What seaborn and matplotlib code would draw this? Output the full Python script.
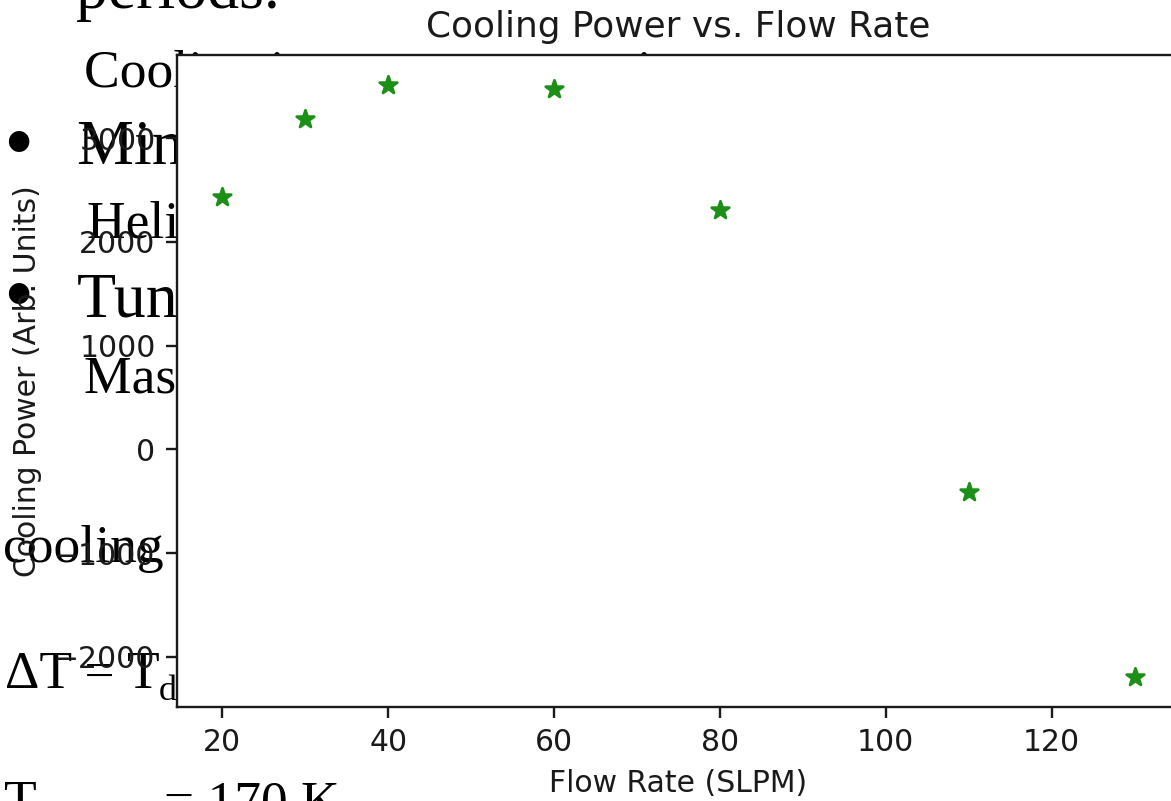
import matplotlib
matplotlib.use("Agg")
import matplotlib.pyplot as plt
import seaborn as sns
import pandas as pd

# Measured cooling power at each helium flow rate
flow_rate = [20, 30, 40, 60, 80, 110, 130]
cooling_power = [2430, 3185, 3515, 3470, 2305, -410, -2195]

x_ticks = [20, 40, 60, 80, 100, 120]
y_ticks = [-2000, -1000, 0, 1000, 2000, 3000]

# Lecture-note lines sitting behind the plot (text, size, x px, baseline px)
note_lines = [
    ("periods.", 46, 76, 8),
    ("Cooling is run over a set time", 38.5, 84, 87),
    ("Minimise helium use", 46, 77, 163),
    ("Helium flow sets the rate", 38.5, 87, 238),
    ("Tune the flow rate", 46, 77, 317),
    ("Mass flow controller", 38.5, 84, 393),
    ("cooling", 38.5, 3, 562),
]
bullet_rows = [170, 322]

sns.set_style("ticks")

W, H = 1171, 801
fig = plt.figure(figsize=(W / 100, H / 100), dpi=100)
fig.patch.set_facecolor("white")

serif = "Liberation Serif"


def put(x, y, s, size, **kw):
    fig.text(x / W, 1 - y / H, s, fontsize=size, family=serif, color="black",
             ha="left", va="baseline", zorder=-1, **kw)


for text, size, x, y in note_lines:
    put(x, y, text, size)
for y in bullet_rows:
    put(3, y, "\u2022", 62)

put(5, 688, "\u0394T = T", 38.5)
put(159, 700, "d", 26)
put(4, 817, "T", 38.5)
put(164, 817, "= 170 K", 38.5)

ax = fig.add_axes([176.7 / W, 1 - 706.7 / H, (1180.2 - 176.7) / W, (706.7 - 55) / H])
ax.set_facecolor("white")

df = pd.DataFrame({"Flow Rate (SLPM)": flow_rate,
                   "Cooling Power (Arb. Units)": cooling_power})
sns.scatterplot(data=df, x="Flow Rate (SLPM)", y="Cooling Power (Arb. Units)",
                marker="*", s=175, color="#1c8f17", edgecolor="#1c8f17",
                linewidth=2.0, ax=ax, zorder=3)

ax.set_xticks(x_ticks)
ax.set_yticks(y_ticks)
ax.margins(x=0.05, y=0.05)

ax.set_title("Cooling Power vs. Flow Rate", fontsize=25.8, pad=13, color="#1a1a1a")
ax.set_xlabel("Flow Rate (SLPM)", fontsize=21.5, labelpad=8.6, color="#1a1a1a")
ax.set_ylabel("Cooling Power (Arb. Units)", fontsize=21.5, labelpad=8.6, color="#1a1a1a")
ax.tick_params(axis="both", labelsize=21.5, length=7.6, width=1.7, pad=7.6,
               color="#1a1a1a", labelcolor="#1a1a1a")
for sp in ax.spines.values():
    sp.set_linewidth(1.7)
    sp.set_color("#1a1a1a")

fig.savefig("out.png", dpi=100)
